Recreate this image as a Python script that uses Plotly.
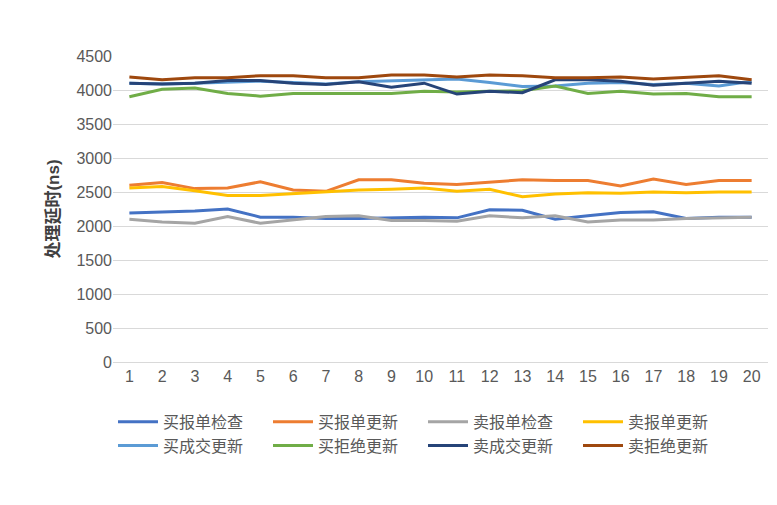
import plotly.graph_objects as go

x = list(range(1, 21))
names = ["买报单检查", "买报单更新", "卖报单检查", "卖报单更新", "买成交更新", "买拒绝更新", "卖成交更新", "卖拒绝更新"]
colors = ["#4472C4", "#ED7D31", "#A5A5A5", "#FFC000", "#5B9BD5", "#70AD47", "#264478", "#9E480E"]
buy_check = [2190,2200,2220,2250,2130,2130,2110,2110,2120,2130,2120,2240,2230,2100,2150,2200,2210,2110,2130,2130]
buy_update = [2600,2640,2550,2560,2650,2530,2510,2680,2680,2630,2610,2640,2680,2670,2670,2590,2690,2610,2670,2670]
sell_check = [2100,2060,2040,2140,2040,2090,2140,2150,2080,2080,2070,2150,2120,2150,2060,2090,2090,2110,2120,2130]
sell_update = [2560,2580,2520,2450,2450,2480,2500,2530,2540,2560,2510,2540,2430,2470,2490,2480,2500,2490,2500,2500]
buy_trade = [4100,4090,4100,4120,4130,4110,4090,4120,4130,4140,4160,4110,4050,4060,4100,4110,4080,4100,4060,4130]
buy_reject = [3900,4010,4030,3950,3910,3950,3950,3950,3950,3980,3970,3980,3990,4060,3950,3980,3940,3950,3900,3900]
sell_trade = [4100,4090,4100,4140,4140,4100,4080,4120,4040,4100,3940,3980,3960,4150,4150,4130,4070,4100,4130,4100]
sell_reject = [4190,4150,4180,4180,4210,4210,4180,4180,4220,4220,4190,4220,4210,4180,4180,4190,4160,4190,4210,4150]
series = [buy_check, buy_update, sell_check, sell_update, buy_trade, buy_reject, sell_trade, sell_reject]

fig = go.Figure()
for n, c, y in zip(names, colors, series):
    fig.add_trace(go.Scatter(x=x, y=y, name=n, mode="lines", line=dict(color=c, width=3)))

fig.update_layout(
    width=777, height=505, paper_bgcolor="white", plot_bgcolor="white",
    margin=dict(l=105, r=17, t=48, b=151),
    font=dict(family="Liberation Sans, Noto Sans CJK SC", size=16, color="#595959"),
    xaxis=dict(tickvals=x, range=[0.5, 20.5], showgrid=False, showline=True, linecolor="#D9D9D9", ticks=""),
    yaxis=dict(range=[0, 4500], dtick=500, gridcolor="#D9D9D9", zeroline=False,
               title=dict(text="<b>处理延时(ns)</b>", font=dict(size=17, color="#404040"), standoff=12), ticks=""),
    legend=dict(orientation="h", x=0.0, xanchor="left", y=-0.14, yanchor="top",
                font=dict(size=16, color="#595959"), entrywidth=100, entrywidthmode="pixels",
                itemwidth=40, tracegroupgap=0),
)
fig.write_html("out.html")
